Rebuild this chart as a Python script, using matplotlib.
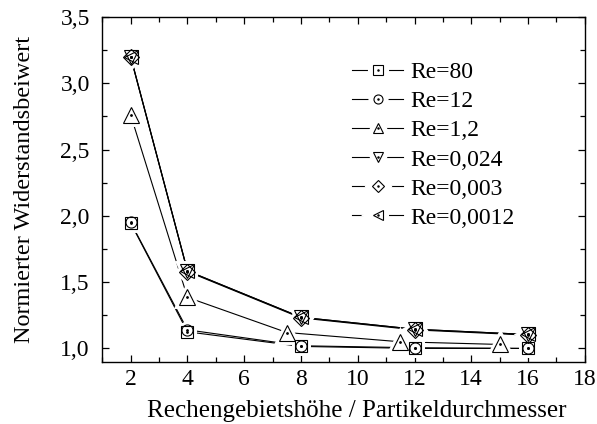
import matplotlib
matplotlib.use("Agg")
import matplotlib.pyplot as plt
from matplotlib.lines import Line2D
from matplotlib.ticker import MultipleLocator, FuncFormatter

plt.rcParams["font.family"] = ["Liberation Serif", "DejaVu Serif"]

# Normierter Widerstandsbeiwert über H/d für verschiedene Reynoldszahlen
labels = ["Re=80", "Re=12", "Re=1,2", "Re=0,024", "Re=0,003", "Re=0,0012"]
markers = ["s", "o", "^", "v", "D", "<"]

x_re80 = [2, 4, 8, 12, 16]
y_re80 = [1.945, 1.125, 1.015, 1.0, 1.0]
x_re12 = [2, 4, 8, 12, 16]
y_re12 = [1.95, 1.14, 1.02, 1.005, 1.0]
x_re1_2 = [2, 4, 7.5, 11.5, 15]
y_re1_2 = [2.76, 1.385, 1.12, 1.05, 1.03]
x_re0_024 = [2, 4, 8, 12, 16]
y_re0_024 = [3.2, 1.585, 1.235, 1.145, 1.105]
x_re0_003 = [2, 4, 8, 12, 16]
y_re0_003 = [3.195, 1.58, 1.23, 1.14, 1.10]
x_re0_0012 = [2, 4, 8, 12, 16]
y_re0_0012 = [3.2, 1.585, 1.235, 1.145, 1.105]

series = [(x_re80, y_re80), (x_re12, y_re12), (x_re1_2, y_re1_2),
          (x_re0_024, y_re0_024), (x_re0_003, y_re0_003), (x_re0_0012, y_re0_0012)]
sizes = {"s": 8, "o": 8, "^": 12, "v": 10.5, "D": 8, "<": 10.5}
leg_sizes = {"s": 6.5, "o": 6.5, "^": 7.5, "v": 7.5, "D": 6, "<": 7.5}

fig = plt.figure(figsize=(5.97, 4.24), dpi=100)
ax = fig.add_axes([0.1714, 0.147, 0.8082, 0.813])

for (xs, ys), m in zip(series, markers):
    ax.plot(xs, ys, color="k", lw=0.8, zorder=2)
for (xs, ys), m in zip(series, markers):
    # white halo so the lines stop short of the symbols
    ax.plot(xs, ys, ls="none", marker=m, ms=sizes[m], mfc="w", mec="w",
            mew=5, zorder=3)
for (xs, ys), m in zip(series, markers):
    ax.plot(xs, ys, ls="none", marker=m, ms=sizes[m], mfc="none", mec="k",
            mew=0.8, zorder=4)
    ax.plot(xs, ys, ls="none", marker="o", ms=1.0, color="k", zorder=5)

ax.set_xlim(1, 18)
ax.set_ylim(0.9, 3.5)
ax.xaxis.set_major_locator(MultipleLocator(2))
ax.xaxis.set_minor_locator(MultipleLocator(1))
ax.yaxis.set_major_locator(MultipleLocator(0.5))
ax.yaxis.set_minor_locator(MultipleLocator(0.25))
ax.yaxis.set_major_formatter(FuncFormatter(lambda v, p: f"{v:.1f}".replace(".", ",")))
ax.tick_params(which="both", direction="in", top=True, right=True,
               width=0.9, labelsize=17)
ax.tick_params(axis="x", pad=5.5)
ax.tick_params(axis="y", pad=9)
ax.tick_params(which="major", length=5)
ax.tick_params(which="minor", length=3.5)
for s in ax.spines.values():
    s.set_linewidth(1.0)

ax.set_xlabel("Rechengebietshöhe / Partikeldurchmesser", fontsize=18)
ax.xaxis.set_label_coords(0.528, -0.11)
ax.set_ylabel("Normierter Widerstandsbeiwert", fontsize=17.5, labelpad=18)

handles = []
for m in markers:
    ms = leg_sizes[m]
    handles.append((Line2D([], [], color="k", lw=0.8),
                    Line2D([], [], ls="none", marker=m, ms=ms, mfc="w", mec="w", mew=8),
                    Line2D([], [], ls="none", marker=m, ms=ms, mfc="none", mec="k", mew=0.8),
                    Line2D([], [], ls="none", marker="o", ms=0.8, color="k")))
ax.legend(handles, labels, loc="upper left", bbox_to_anchor=(0.5175, 0.87),
          frameon=False, fontsize=17, numpoints=1, handlelength=2.16,
          handletextpad=0.3, labelspacing=0.32, borderpad=0, borderaxespad=0)

fig.savefig("out.png", dpi=100)
